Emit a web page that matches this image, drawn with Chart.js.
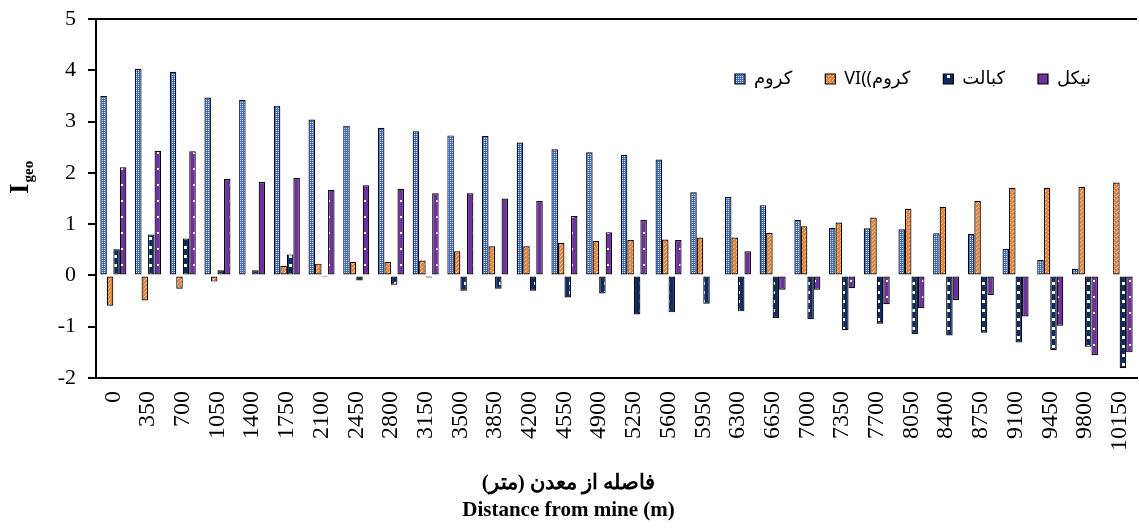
<!DOCTYPE html>
<html>
<head>
<meta charset="utf-8">
<script src="https://cdn.jsdelivr.net/npm/chart.js@4.4.1/dist/chart.umd.min.js"></script>
<style>
  body { margin: 0; background: #fff; }
  #wrap { width: 1139px; height: 532px; }
</style>
</head>
<body>
<div id="wrap"><canvas id="igeo" width="1139" height="532"></canvas></div>
<script>
// distance from mine (m)
const distances = ['0', '350', '700', '1050', '1400', '1750', '2100', '2450', '2800', '3150',
  '3500', '3850', '4200', '4550', '4900', '5250', '5600', '5950', '6300', '6650',
  '7000', '7350', '7700', '8050', '8400', '8750', '9100', '9450', '9800', '10150'];

// Igeo values
const chromium = [3.50, 4.03, 3.97, 3.47, 3.42, 3.31, 3.04, 2.92, 2.88, 2.81,
  2.73, 2.72, 2.59, 2.46, 2.40, 2.35, 2.26, 1.62, 1.53, 1.37,
  1.08, 0.93, 0.92, 0.90, 0.82, 0.81, 0.52, 0.30, 0.13, 0.02];
const chromiumVI = [-0.59, -0.49, -0.26, -0.12, 0.02, 0.19, 0.23, 0.26, 0.26, 0.29,
  0.47, 0.57, 0.57, 0.63, 0.67, 0.69, 0.70, 0.74, 0.74, 0.83,
  0.96, 1.03, 1.13, 1.30, 1.34, 1.45, 1.71, 1.71, 1.73, 1.81];
const cobalt = [0.51, 0.80, 0.72, 0.10, 0.10, 0.41, -0.03, -0.10, -0.18, -0.04,
  -0.30, -0.26, -0.30, -0.43, -0.35, -0.76, -0.72, -0.55, -0.70, -0.83,
  -0.85, -1.07, -0.94, -1.14, -1.17, -1.12, -1.31, -1.46, -1.39, -1.81];
const nickel = [2.11, 2.43, 2.42, 1.88, 1.82, 1.90, 1.67, 1.76, 1.69, 1.60,
  1.60, 1.50, 1.45, 1.16, 0.84, 1.08, 0.69, 0.02, 0.47, -0.28,
  -0.28, -0.25, -0.56, -0.64, -0.48, -0.38, -0.80, -0.98, -1.55, -1.50];

const seriesNames = ['کروم', 'VI((کروم', 'کبالت', 'نیکل'];
const yTicks = [-2, -1, 0, 1, 2, 3, 4, 5];

// small tiles used as bar fills (excel style patterns)
function makePattern(w, h, bg, fg, paint) {
  const c = document.createElement('canvas');
  c.width = w; c.height = h;
  const g = c.getContext('2d');
  g.fillStyle = bg;
  g.fillRect(0, 0, w, h);
  g.fillStyle = fg;
  paint(g);
  return g.createPattern(c, 'repeat');
}

const ctx = document.getElementById('igeo').getContext('2d');

const crFill = makePattern(2, 2, '#3E6BC8', '#D6E1F5', g => { g.fillRect(0, 0, 1, 1); });
const crVIFill = makePattern(4, 4, '#ED7D31', '#FBE0CC', g => { g.fillRect(0, 0, 1, 1); g.fillRect(2, 2, 1, 1); g.fillRect(1, 3, 1, 1); });
const coFill = makePattern(7, 9, '#0D2A63', '#ffffff', g => { g.fillRect(2, 3, 3, 3); });
const niFill = makePattern(9, 16, '#7030A0', '#ffffff', g => { g.fillRect(4, 8, 2, 2); });

// top edge of the plot frame
const frameTop = {
  id: 'frameTop',
  afterDraw(chart) {
    const a = chart.chartArea;
    const c = chart.ctx;
    c.save();
    c.strokeStyle = '#000';
    c.lineWidth = 2;
    c.beginPath();
    c.moveTo(a.left - 1, a.top);
    c.lineTo(a.right, a.top);
    c.stroke();
    c.restore();
  }
};

// y axis title "I geo" with subscript
const yTitle = {
  id: 'yTitle',
  afterDraw(chart) {
    const c = chart.ctx;
    c.save();
    c.translate(28, 194);
    c.rotate(-Math.PI / 2);
    c.fillStyle = '#000';
    c.textBaseline = 'alphabetic';
    c.font = 'bold 27px "Liberation Serif", serif';
    c.fillText('I', 0, 0);
    const w = c.measureText('I').width;
    c.font = 'bold 15px "Liberation Serif", serif';
    c.fillText('geo', w + 1, 5);
    c.restore();
  }
};

// legend takes no room at the top, then gets moved inside the plot
const legendSpot = {
  id: 'legendSpot',
  beforeLayout(chart) {
    const l = chart.legend;
    if (l && !l._noRoom) {
      const fit = l.fit.bind(l);
      l.fit = function () { fit(); this._realHeight = this.height; this.height = 0; };
      l._noRoom = true;
    }
  },
  afterLayout(chart) {
    const l = chart.legend;
    if (!l) return;
    l.top = 37;
    l.height = l._realHeight || 60;
    l.bottom = l.top + l.height;
    l.left = 0;
    l.right = 1124;
  }
};

const common = { borderColor: '#000', borderWidth: 1.2, borderSkipped: false,
  categoryPercentage: 0.75, barPercentage: 1.0 };

new Chart(ctx, {
  type: 'bar',
  data: {
    labels: distances,
    datasets: [
      Object.assign({ label: seriesNames[0], data: chromium, backgroundColor: crFill }, common),
      Object.assign({ label: seriesNames[1], data: chromiumVI, backgroundColor: crVIFill }, common),
      Object.assign({ label: seriesNames[2], data: cobalt, backgroundColor: coFill }, common),
      Object.assign({ label: seriesNames[3], data: nickel, backgroundColor: niFill }, common)
    ]
  },
  options: {
    responsive: false,
    animation: false,
    layout: { padding: { top: 19, right: 2, left: 0, bottom: 0 } },
    plugins: {
      legend: {
        position: 'top',
        align: 'end',
        labels: {
          boxWidth: 10,
          boxHeight: 10,
          padding: 33,
          color: '#000',
          font: { size: 18, family: '"Noto Sans", "DejaVu Sans", sans-serif' }
        }
      },
      title: {
        display: true,
        position: 'bottom',
        text: ['فاصله از معدن (متر)', 'Distance from mine (m)'],
        color: '#000',
        font: { size: 21, weight: 'bold', family: '"Liberation Serif", serif', lineHeight: '27px' },
        padding: { top: 0, bottom: 7.5 }
      },
      tooltip: { enabled: false }
    },
    scales: {
      x: {
        grid: { display: false },
        border: { display: true, color: '#000', width: 2 },
        ticks: {
          color: '#000',
          minRotation: 90,
          maxRotation: 90,
          autoSkip: false,
          padding: 5,
          font: { size: 24, family: '"Liberation Serif", serif' }
        },
        afterFit(scale) {
          scale.height = 92.5;
          scale.paddingLeft = 0;
          scale.paddingRight = 0;
        }
      },
      y: {
        min: -2,
        max: 5,
        afterBuildTicks(scale) {
          scale.ticks = yTicks.map(v => ({ value: v }));
        },
        grid: { drawOnChartArea: false, drawTicks: true, tickLength: 8, color: '#000', lineWidth: 2 },
        border: { display: true, color: '#000', width: 2 },
        ticks: {
          color: '#000',
          padding: 12,
          font: { size: 22, family: '"Liberation Serif", serif' }
        },
        afterFit(scale) {
          scale.width = 96;
          scale.paddingTop = 0;
          scale.paddingBottom = 0;
        }
      }
    }
  },
  plugins: [frameTop, yTitle, legendSpot]
});
</script>
</body>
</html>
